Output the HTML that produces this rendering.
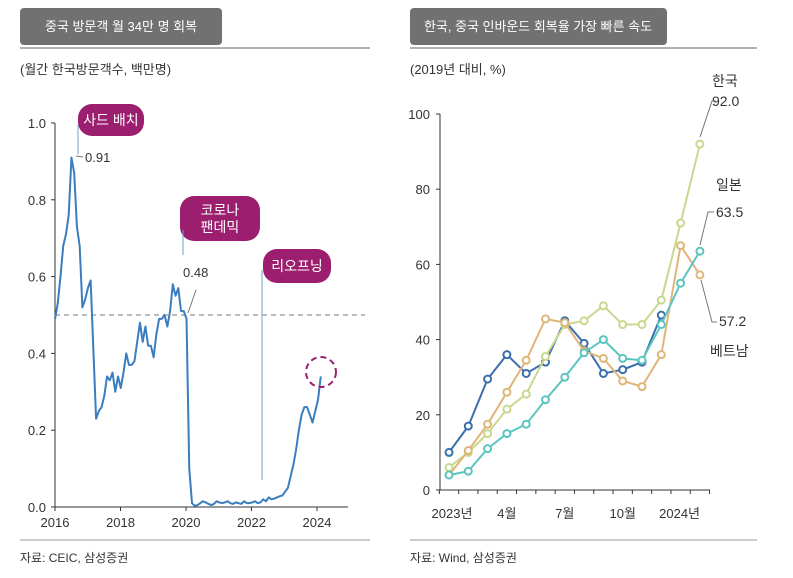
<!DOCTYPE html>
<html><head><meta charset="utf-8">
<style>
body{margin:0;background:#fff;}
svg{display:block;font-family:"Liberation Sans","Noto Sans CJK KR",sans-serif;}
</style></head>
<body>
<svg id="c" width="793" height="578" viewBox="0 0 793 578" xmlns="http://www.w3.org/2000/svg">
<g>
<rect x="20" y="8" width="202" height="37" rx="4" fill="#717171"/>
<text x="121" y="31" fill="#fff" font-size="13" text-anchor="middle">중국 방문객 월 34만 명 회복</text>
<line x1="20" y1="48" x2="370" y2="48" stroke="#999" stroke-width="1.5"/>
<text x="20" y="74" font-size="13" fill="#333">(월간 한국방문객수, 백만명)</text>
</g>
<g>
<rect x="410" y="8" width="257" height="37" rx="4" fill="#717171"/>
<text x="538" y="31" fill="#fff" font-size="13" text-anchor="middle" textLength="228" lengthAdjust="spacingAndGlyphs">한국, 중국 인바운드 회복율 가장 빠른 속도</text>
<line x1="410" y1="48" x2="757" y2="48" stroke="#999" stroke-width="1.5"/>
<text x="410" y="74" font-size="13" fill="#333">(2019년 대비, %)</text>
</g>
<line x1="20" y1="540" x2="370" y2="540" stroke="#999" stroke-width="1"/>
<text x="20" y="562" font-size="12" fill="#333">자료: CEIC, 삼성증권</text>
<line x1="410" y1="540" x2="757" y2="540" stroke="#999" stroke-width="1"/>
<text x="410" y="562" font-size="12" fill="#333">자료: Wind, 삼성증권</text>
<g id="left"></g>
<g id="right"></g>
</svg>
<script>
const leftValues=[0.49,0.53,0.60,0.68,0.71,0.76,0.91,0.87,0.73,0.68,0.52,0.54,0.57,0.59,0.41,0.23,0.25,0.26,0.29,0.34,0.33,0.35,0.30,0.34,0.31,0.35,0.40,0.37,0.37,0.38,0.43,0.48,0.43,0.47,0.42,0.42,0.39,0.45,0.49,0.49,0.50,0.47,0.51,0.58,0.55,0.57,0.51,0.51,0.49,0.10,0.01,0.003,0.005,0.01,0.015,0.012,0.008,0.005,0.008,0.015,0.012,0.01,0.012,0.015,0.01,0.008,0.012,0.01,0.008,0.015,0.01,0.01,0.012,0.015,0.01,0.012,0.02,0.015,0.025,0.02,0.022,0.025,0.028,0.03,0.04,0.05,0.08,0.11,0.15,0.20,0.24,0.26,0.26,0.24,0.22,0.25,0.28,0.34];
const leftYTicks=[0,0.2,0.4,0.6,0.8,1.0];
const leftYTickLabels=["0.0","0.2","0.4","0.6","0.8","1.0"];
const leftXTicks=[2016,2018,2020,2022,2024];
const catLabels=["2023년","4월","7월","10월","2024년"];
const chinaSeries=[10,17,29.5,36,31,34,45,39,31,32,34,46.5];
const vietnamSeries=[4,10.5,17.5,26,34.5,45.5,44.5,37,35,29,27.5,36,65,57.2];
const koreaSeries=[6,10,15,21.5,25.5,35.5,44,45,49,44,44,50.5,71,92];
const japanSeries=[4,5,11,15,17.5,24,30,36.5,40,35,34.5,44,55,63.5];
const rightYTicks=[0,20,40,60,80,100];

const NS="http://www.w3.org/2000/svg";
function mk(tag,attrs,parent,txt){const e=document.createElementNS(NS,tag);for(const k in attrs)e.setAttribute(k,attrs[k]);if(txt!==undefined)e.textContent=txt;parent.appendChild(e);return e;}

const L=document.getElementById('left');
const lx=i=>55+i*2.74;
const lxYear=y=>55+(y-2016)*32.75;
const ly=v=>507-v*384;
let e=mk('line',{x1:55,y1:ly(1.0),x2:55,y2:507,stroke:'#333','stroke-width':1},L);


e=mk('line',{x1:55,y1:507,x2:348,y2:507,stroke:'#333','stroke-width':1},L);


leftYTicks.forEach((t,i)=>{
 e=mk('line',{x1:51,y1:ly(t),x2:55,y2:ly(t),stroke:'#333'},L);
 
 
 e=mk('text',{x:46,y:ly(t)+5,'font-size':13,'text-anchor':'end',fill:'#333'},L,leftYTickLabels[i]);
 
 
});
leftXTicks.forEach(t=>{
 e=mk('line',{x1:lxYear(t),y1:507,x2:lxYear(t),y2:511,stroke:'#333'},L);
 
 
 e=mk('text',{x:lxYear(t),y:527,'font-size':13,'text-anchor':'middle',fill:'#333'},L,String(t));
 
 
});
e=mk('line',{x1:55,y1:ly(0.5),x2:365,y2:ly(0.5),stroke:'#777','stroke-dasharray':'5,4','stroke-width':1},L);


e=mk('polyline',{points:leftValues.map((v,i)=>lx(i)+','+ly(v)).join(' '),fill:'none',stroke:'#3a7ec0','stroke-width':2,'stroke-linejoin':'round'},L);


function badge(x,y,w,h,lines,name){
 const g=mk('g',{},L);
 
 
 mk('rect',{x:x,y:y,width:w,height:h,rx:h/2>14?14:h/2,fill:'#9b1f6e'},g);
 lines.forEach((t,i)=>mk('text',{x:x+w/2,y:y+h/2+5+(i-(lines.length-1)/2)*17,'font-size':14,'text-anchor':'middle',fill:'#fff'},g,t));
}
badge(78,104,66,32,['사드 배치'],'thaad-badge');
badge(180,196,80,45,['코로나','팬데믹'],'covid-badge');
badge(263,249,68,34,['리오프닝'],'reopening-badge');
e=mk('line',{x1:78,y1:125,x2:78,y2:154,stroke:'#6aa0cc'},L);
e=mk('line',{x1:76,y1:156,x2:83,y2:157,stroke:'#777'},L);
e=mk('text',{x:85,y:162,'font-size':13,fill:'#333'},L,'0.91');
e=mk('line',{x1:183,y1:230,x2:183,y2:255,stroke:'#6aa0cc'},L);
e=mk('text',{x:183,y:277,'font-size':13,fill:'#333'},L,'0.48');
e=mk('line',{x1:196,y1:290,x2:188,y2:313,stroke:'#777'},L);
e=mk('line',{x1:262,y1:270,x2:262,y2:480,stroke:'#6aa0cc'},L);
e=mk('circle',{cx:321,cy:372,r:15,fill:'none',stroke:'#9b1f6e','stroke-width':2,'stroke-dasharray':'6,4'},L);

const R=document.getElementById('right');
const rx=i=>449+i*19.3;
const ry=v=>490-v*3.76;
e=mk('line',{x1:440,y1:ry(100),x2:440,y2:490,stroke:'#333'},R);
e=mk('line',{x1:440,y1:490,x2:710,y2:490,stroke:'#333'},R);
rightYTicks.forEach(t=>{
 e=mk('line',{x1:436,y1:ry(t),x2:440,y2:ry(t),stroke:'#333'},R);
 
 
 e=mk('text',{x:430,y:ry(t)+5,'font-size':13,'text-anchor':'end',fill:'#333'},R,String(t));
 
 
});
for(let i=0;i<=14;i++){
 e=mk('line',{x1:rx(i)-9.65,y1:490,x2:rx(i)-9.65,y2:494,stroke:'#333'},R);
 
 
}
[0,3,6,9,12].forEach((m,k)=>{
 e=mk('text',{x:rx(m)+(k==0?3:k==4?-1:0),y:518,'font-size':13,'text-anchor':'middle',fill:'#333'},R,catLabels[k]);
 
 
});
function series(vals,color,name){
 const g=mk('g',{},R);
 
 
 mk('polyline',{points:vals.map((v,i)=>rx(i)+','+ry(v)).join(' '),fill:'none',stroke:color,'stroke-width':2},g);
 vals.forEach((v,i)=>{const c=mk('circle',{cx:rx(i),cy:ry(v),r:3.5,fill:'#fff',stroke:color,'stroke-width':2},g);
  
  });
}
series(chinaSeries,'#3a6fad','china-series');
series(koreaSeries,'#c8d88f','korea-series');
series(vietnamSeries,'#e0b678','vietnam-series');
series(japanSeries,'#5cc5c0','japan-series');
function lbl(x,y,t,name,anchor){e=mk('text',{x:x,y:y,'font-size':14,fill:'#333','text-anchor':anchor||'start'},R,t);}
lbl(712,86,'한국','korea-label');
lbl(712,106,'92.0','korea-value');
lbl(716,190,'일본','japan-label');
lbl(716,217,'63.5','japan-value');
lbl(719,326,'57.2','vietnam-value');
lbl(710,356,'베트남','vietnam-label');
e=mk('polyline',{points:'716,101 712,101 700,137',fill:'none',stroke:'#777'},R);
e=mk('polyline',{points:'714,212 708,212 700,245',fill:'none',stroke:'#777'},R);
e=mk('polyline',{points:'717,322 712,322 701,280',fill:'none',stroke:'#777'},R);
</script>
</body></html>
